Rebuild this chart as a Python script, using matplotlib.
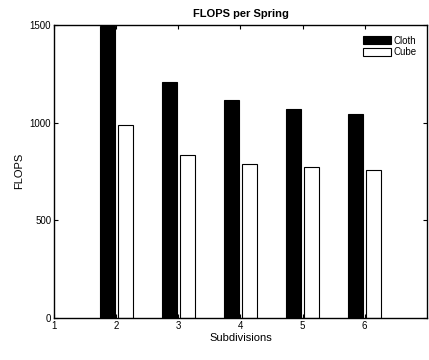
import numpy as np
import matplotlib
matplotlib.use("Agg")
import matplotlib.pyplot as plt

plt.rcParams['font.family'] = ['Liberation Sans', 'DejaVu Sans']

# Data
subdivisions = [2, 3, 4, 5, 6]
cloth = [1495, 1205, 1113, 1068, 1044]
cube = [987, 835, 788, 770, 758]

fig = plt.figure(figsize=(4.29, 3.6), dpi=100)
ax = fig.add_axes([0.126, 0.117, 0.869, 0.814])

x = np.array(subdivisions)
w = 0.245
ax.bar(x - 0.145, cloth, width=w, color='black', edgecolor='black', linewidth=0.8, label='Cloth')
ax.bar(x + 0.145, cube, width=w, color='white', edgecolor='black', linewidth=0.8, label='Cube')

ax.set_xlim(1, 7)
ax.set_ylim(0, 1500)
ax.set_xticks([1, 2, 3, 4, 5, 6])
ax.set_yticks([0, 500, 1000, 1500])
ax.tick_params(direction='in', top=True, right=True, labelsize=7, length=3, width=0.8, pad=2)
for s in ax.spines.values():
    s.set_linewidth(1.0)

ax.set_title('FLOPS per Spring', fontsize=8, fontweight='bold', pad=6)
ax.set_xlabel('Subdivisions', fontsize=8, labelpad=2)
ax.set_ylabel('FLOPS', fontsize=8, labelpad=4)

ax.legend(loc='upper right', frameon=False, fontsize=7, handlelength=2.9, handleheight=0.9,
          handletextpad=0.2, labelspacing=0.2, borderaxespad=0.7)

fig.savefig('out.png', dpi=100)
